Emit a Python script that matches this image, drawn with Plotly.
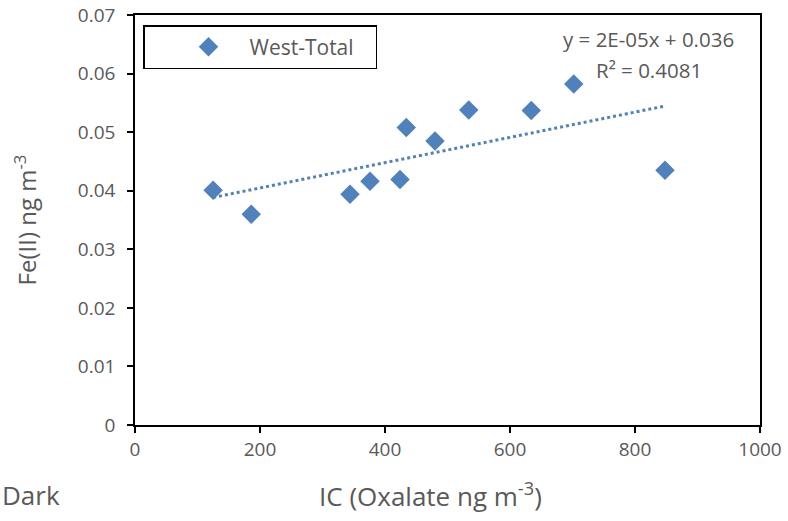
import numpy as np
import plotly.graph_objects as go

# Oxalate (IC) vs Fe(II), West total samples
oxalate = [125, 186, 344, 376, 424, 434, 480, 534, 634, 702, 848]
fe2 = [0.0401, 0.0360, 0.0394, 0.0416, 0.0419, 0.0508, 0.0485, 0.0538, 0.0537, 0.0582, 0.0435]

x_ticks = [0, 200, 400, 600, 800, 1000]
y_ticks = [0, 0.01, 0.02, 0.03, 0.04, 0.05, 0.06, 0.07]
y_tick_text = ["0", "0.01", "0.02", "0.03", "0.04", "0.05", "0.06", "0.07"]

series_name = "West-Total"
equation_text = "y = 2E-05x + 0.036"
r2_text = "R² = 0.4081"

BLUE = "#4F81BD"
GREY = "#595959"
FONT = "Open Sans, sans-serif"

# linear trendline over the data range
slope, intercept = np.polyfit(oxalate, fe2, 1)
trend_x = [min(oxalate), max(oxalate)]
trend_y = [slope * v + intercept for v in trend_x]

fig = go.Figure()
fig.add_trace(go.Scatter(
    x=trend_x, y=trend_y, mode="lines",
    line=dict(color=BLUE, width=3, dash="dot"),
    showlegend=False, hoverinfo="skip",
))
fig.add_trace(go.Scatter(
    x=oxalate, y=fe2, mode="markers", name=series_name + "\u00a0\u00a0\u00a0",
    marker=dict(symbol="diamond", size=15, color=BLUE),
))

axis_common = dict(
    showgrid=False, zeroline=False, automargin=False,
    showline=True, linecolor="black", linewidth=1.5, mirror=True,
    ticks="outside", ticklen=6, tickcolor="black", tickwidth=1.5,
    tickfont=dict(size=19, color=GREY),
)

fig.update_layout(
    width=788, height=521,
    margin=dict(l=135, r=28, t=15, b=96),
    paper_bgcolor="white", plot_bgcolor="white",
    font=dict(family=FONT, color=GREY, size=19),
    showlegend=True,
    legend=dict(
        x=0.0128, y=0.9756, xanchor="left", yanchor="top",
        bordercolor="black", borderwidth=1.5, bgcolor="white",
        font=dict(family=FONT, size=21, color=GREY),
        itemwidth=72, indentation=23,
    ),
    xaxis=dict(
        range=[0, 1000], tickvals=x_ticks,
        **axis_common,
    ),
    yaxis=dict(
        range=[0, 0.07], tickvals=y_ticks, ticktext=y_tick_text,
        ticklabelstandoff=8,
        title=dict(text="Fe(II) ng m<sup>-3</sup>", font=dict(size=24, color=GREY), standoff=34),
        **axis_common,
    ),
    annotations=[
        dict(xref="paper", yref="paper", x=0.4725, y=-0.171, xanchor="center", yanchor="middle",
             text="IC (Oxalate ng m<sup>-3</sup>)", showarrow=False, font=dict(size=26, color=GREY)),
        dict(xref="paper", yref="paper", x=0.961, y=0.942, xanchor="right", yanchor="middle",
             text=equation_text, showarrow=False, font=dict(size=20.5, color=GREY)),
        dict(xref="paper", yref="paper", x=0.91, y=0.866, xanchor="right", yanchor="middle",
             text=r2_text, showarrow=False, font=dict(size=20.5, color=GREY)),
        dict(xref="paper", yref="paper", x=-0.216, y=-0.171, xanchor="left", yanchor="middle",
             text="Dark", showarrow=False, font=dict(size=26, color=GREY)),
    ],
)

fig.write_html("out.html")
